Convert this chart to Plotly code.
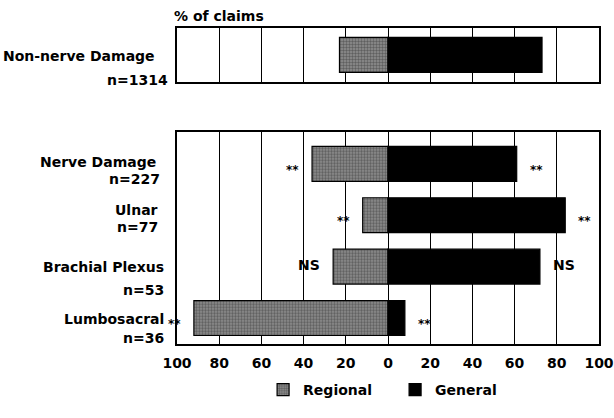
import plotly.graph_objects as go
from plotly.subplots import make_subplots

# ---- data ----
top_category = ["Non-nerve Damage"]
top_n = ["n=1314"]
top_regional = [23]
top_general = [73]

categories = ["Nerve Damage", "Ulnar", "Brachial Plexus", "Lumbosacral"]
cat_n = ["n=227", "n=77", "n=53", "n=36"]
regional = [36, 12, 26, 92]
general = [61, 84, 72, 8]
sig_regional = ["**", "**", "NS", "**"]
sig_general = ["**", "**", "NS", "**"]

tick_vals = [-100, -80, -60, -40, -20, 0, 20, 40, 60, 80, 100]
tick_text = ["100", "80", "60", "40", "20", "0", "20", "40", "60", "80", "100"]

FONT = "DejaVu Sans"

fig = make_subplots(rows=2, cols=1, vertical_spacing=0.0)

reg_marker = dict(color="#858585", line=dict(color="black", width=1.2),
                  pattern=dict(shape=".", fgcolor="#2e2e2e", bgcolor="#909090",
                               size=3, solidity=0.5))
gen_marker = dict(color="#000000", line=dict(color="black", width=1.2))

fig.add_trace(go.Bar(y=top_category, x=[-v for v in top_regional], orientation="h",
                     marker=reg_marker, width=0.65, name="Regional",
                     showlegend=True), row=1, col=1)
fig.add_trace(go.Bar(y=top_category, x=top_general, orientation="h",
                     marker=gen_marker, width=0.65, name="General",
                     showlegend=True), row=1, col=1)
fig.add_trace(go.Bar(y=categories, x=[-v for v in regional], orientation="h",
                     marker=reg_marker, width=0.68, name="Regional",
                     showlegend=False), row=2, col=1)
fig.add_trace(go.Bar(y=categories, x=general, orientation="h",
                     marker=gen_marker, width=0.68, name="General",
                     showlegend=False), row=2, col=1)

axis_common = dict(range=[-100, 100], tickvals=tick_vals, showgrid=True,
                   gridcolor="black", gridwidth=1, zeroline=True,
                   zerolinecolor="black", zerolinewidth=1, showline=True,
                   linecolor="black", linewidth=2, mirror=True, fixedrange=True)

fig.update_layout(
    width=614, height=418, autosize=False,
    margin=dict(l=177, r=15, t=28, b=55),
    paper_bgcolor="white", plot_bgcolor="white",
    barmode="overlay",
    font=dict(family=FONT, color="black"),
    xaxis=dict(domain=[0, 1], anchor="y", showticklabels=False, ticks="", **axis_common),
    yaxis=dict(domain=[0.830, 1.0], anchor="x", range=[-0.5, 0.5],
               showticklabels=False, ticks="", showgrid=False, showline=True,
               linecolor="black", linewidth=2, mirror=True, fixedrange=True),
    xaxis2=dict(domain=[0, 1], anchor="y2", showticklabels=True, ticks="",
                ticktext=tick_text, ticklabelstandoff=5, automargin=False,
                tickfont=dict(family=FONT, size=14, color="black", weight="bold"),
                **axis_common),
    yaxis2=dict(domain=[0.0, 0.6716], anchor="x2", range=[3.505, -0.624],
                categoryorder="array", categoryarray=categories,
                showticklabels=False, ticks="", showgrid=False, showline=True,
                linecolor="black", linewidth=2, mirror=True, fixedrange=True),
    legend=dict(orientation="h", x=0.204, xanchor="left", y=-0.095, yanchor="top",
                font=dict(family=FONT, size=14, color="black", weight="bold"),
                entrywidth=87, entrywidthmode="pixels",
                traceorder="normal", bgcolor="rgba(0,0,0,0)"),
)

ann = []
lab_font = dict(family=FONT, size=14, color="black", weight="bold")
ann.append(dict(text="<b>% of claims</b>", xref="paper", yref="paper",
                x=-0.012, y=1.0 + 13 / 335, xanchor="left", yanchor="middle",
                showarrow=False, font=dict(family=FONT, size=14, color="black")))
ann.append(dict(text="<b>" + top_category[0] + "</b>", xref="paper", yref="y",
                x=-0.047, y=top_category[0], yshift=-1, xanchor="right",
                yanchor="middle", showarrow=False, font=lab_font))
ann.append(dict(text="<b>" + top_n[0] + "</b>", xref="paper", yref="y",
                x=-0.017, y=top_category[0], yshift=-25, xanchor="right",
                yanchor="middle", showarrow=False, font=lab_font))
name_shift = [2, 5, 0, -1]
n_shift = [-15, -12, -23, -20]
name_x = [-0.045, -0.04, -0.026, -0.026]
n_x = [-0.035, -0.04, -0.026, -0.026]
for i, c in enumerate(categories):
    ann.append(dict(text="<b>" + c + "</b>", xref="paper", yref="y2", x=name_x[i], y=c,
                    yshift=name_shift[i], xanchor="right", yanchor="middle",
                    showarrow=False, font=lab_font))
    ann.append(dict(text="<b>" + cat_n[i] + "</b>", xref="paper", yref="y2", x=n_x[i],
                    y=c, yshift=n_shift[i], xanchor="right", yanchor="middle",
                    showarrow=False, font=lab_font))
    is_ns = sig_regional[i] == "NS"
    sfont = dict(family=FONT, size=14 if is_ns else 12, color="black", weight="bold")
    ann.append(dict(text=sig_regional[i], xref="x2", yref="y2", x=-regional[i], y=c,
                    xshift=-11, yshift=(2 if is_ns else -6), xanchor="right",
                    yanchor="middle", showarrow=False, font=sfont))
    ann.append(dict(text=sig_general[i], xref="x2", yref="y2", x=general[i], y=c,
                    xshift=11, yshift=(2 if is_ns else -6), xanchor="left",
                    yanchor="middle", showarrow=False, font=sfont))
fig.update_layout(annotations=ann)

fig.write_html("out.html", config={"displayModeBar": False},
               post_script="document.body.style.margin='0';document.body.style.padding='0';")
